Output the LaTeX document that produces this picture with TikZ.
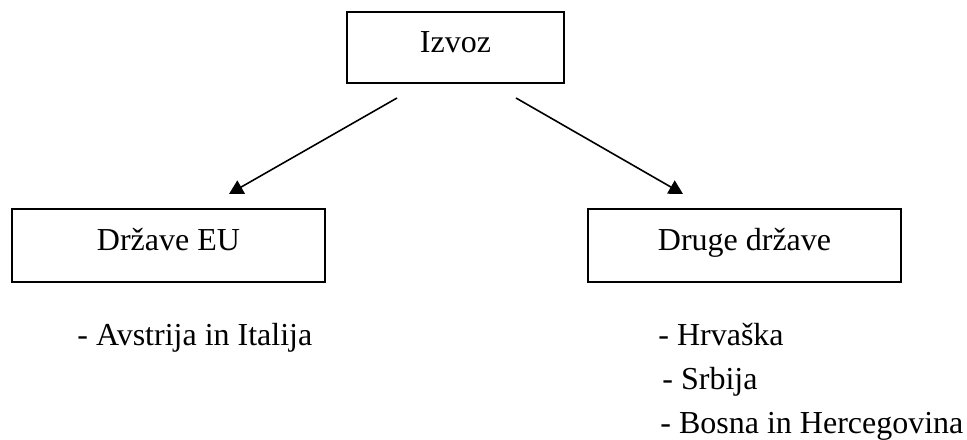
\documentclass[tikz,border=0pt]{standalone}
\usepackage{fontspec}
\setmainfont{Liberation Serif}
\usetikzlibrary{arrows.meta}
\begin{document}
\begin{tikzpicture}[x=0.5pt,y=-0.5pt,
  every node/.style={font=\fontsize{16pt}{22pt}\selectfont, inner sep=0pt},
  box/.style={draw, line width=0.8pt, rectangle, text height=10pt, text depth=5pt},
  topbox/.style={box, minimum width=108.5pt, minimum height=35.5pt},
  sidebox/.style={box, minimum width=156.5pt, minimum height=36.5pt},
  item/.style={anchor=base west},
  link/.style={line width=0.8pt, -{Triangle[length=7pt,width=7.5pt]}}]
\useasboundingbox (0,0) rectangle (967,439);

% boxes
\node[topbox]  (izvoz) at (455.5,47.5)  {Izvoz};
\node[sidebox] (eu)    at (168.5,245.5) {Države EU};
\node[sidebox] (druge) at (744.5,245.5) {Druge države};

% connector ends
\coordinate (fromL) at (397,98);
\coordinate (fromR) at (516,98);
\coordinate (toL)   at (229,194);
\coordinate (toR)   at (683,194);
\draw[link] (fromL) -- (toL);
\draw[link] (fromR) -- (toR);

% country lists
\node[item] (avit) at (77,345)  {- Avstrija in Italija};
\node[item] (hr)   at (658,345) {- Hrvaška};
\node[item] (srb)  at (662,389) {- Srbija};
\node[item] (bih)  at (660,433) {- Bosna in Hercegovina};
\end{tikzpicture}
\end{document}
